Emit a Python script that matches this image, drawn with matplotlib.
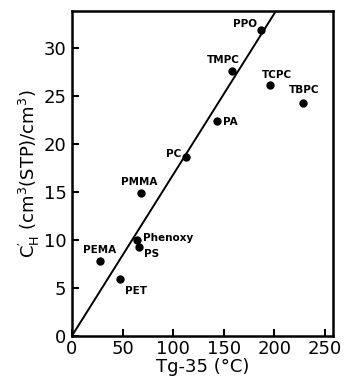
import numpy as np
import matplotlib
matplotlib.use("Agg")
import matplotlib.pyplot as plt

# polymers, Tg-35 (C) and C'H (cm3(STP)/cm3)
polymers = ["PPO", "TMPC", "TCPC", "TBPC", "PA", "PC", "PMMA",
            "Phenoxy", "PS", "PEMA", "PET"]
tg_35 = [186.5, 158.5, 196, 228, 143, 112.5, 68.5, 64, 66, 27.5, 47.5]
c_h = [31.9, 27.6, 26.2, 24.3, 22.4, 18.7, 14.9, 10.0, 9.3, 7.8, 5.9]

# straight line through the origin
line_slope = 0.168

x_ticks = [0, 50, 100, 150, 200, 250]
y_ticks = [0, 5, 10, 15, 20, 25, 30]

# label offsets in pixels, (dx, dy, ha)
label_pos = {
    "PPO": (-4, 6, "right"),
    "TMPC": (-9, 11, "center"),
    "TCPC": (7, 10, "center"),
    "TBPC": (2, 13, "center"),
    "PA": (6, -1, "left"),
    "PC": (-4, 3, "right"),
    "PMMA": (-2, 11, "center"),
    "Phenoxy": (6, 2, "left"),
    "PS": (5, -7, "left"),
    "PEMA": (0, 11, "center"),
    "PET": (5, -12, "left"),
}

fig = plt.figure(figsize=(3.46, 3.86), dpi=100)
ax = fig.add_axes([0.208, 0.13, 0.754, 0.842])

ax.plot(tg_35, c_h, "o", color="black", markersize=5)

xs = np.array([0, 260])
ax.plot(xs, line_slope * xs, color="black", linewidth=1.4)

for name, x, y in zip(polymers, tg_35, c_h):
    dx, dy, ha = label_pos[name]
    ax.annotate(name, (x, y), xytext=(dx, dy), textcoords="offset pixels",
                ha=ha, va="center", fontsize=7.5, fontweight="bold")

ax.set_xlim(0, 258)
ax.set_ylim(0, 33.9)
ax.set_xticks(x_ticks)
ax.set_yticks(y_ticks)
ax.tick_params(direction="in", length=5, width=1.5, labelsize=13)
ax.tick_params(axis="x", pad=3)
ax.tick_params(axis="y", pad=4)
for s in ax.spines.values():
    s.set_linewidth(1.8)

ax.set_xlabel("Tg-35 (°C)", fontsize=13, labelpad=0)
ax.set_ylabel(r"$\mathregular{C_H^{\prime}}$ (cm$^3$(STP)/cm$^3$)", fontsize=13, labelpad=1)

fig.savefig("out.png", dpi=100)
